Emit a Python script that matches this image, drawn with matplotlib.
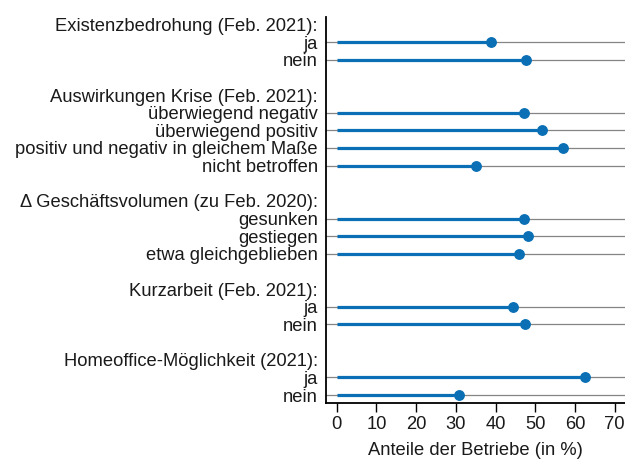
import numpy as np
import matplotlib
matplotlib.use("Agg")
from matplotlib import pyplot as plt

plt.rcParams['font.family'] = ['Liberation Sans', 'DejaVu Sans']

# labels top to bottom; None value = group header row or spacer row
labels = ["Existenzbedrohung (Feb. 2021):", "ja", "nein", "",
          "Auswirkungen Krise (Feb. 2021):", "überwiegend negativ", "überwiegend positiv",
          "positiv und negativ in gleichem Maße", "nicht betroffen", "",
          "\u0394 Geschäftsvolumen (zu Feb. 2020):", "gesunken", "gestiegen", "etwa gleichgeblieben", "",
          "Kurzarbeit (Feb. 2021):", "ja", "nein", "",
          "Homeoffice-Möglichkeit (2021):", "ja", "nein"]
values = [None, 38.8, 47.7, None,
          None, 47.2, 51.6, 57.1, 35.1, None,
          None, 47.2, 48.2, 45.9, None,
          None, 44.4, 47.5, None,
          None, 62.5, 30.9]

blue = '#0a6fb5'
fs = 13.2
fig = plt.figure(figsize=(6.25, 4.61), dpi=100)
ax = fig.add_axes([326/625, 1-403/461, 1-326/625, (403-17)/461])

ypos = np.arange(len(labels))
for y, v in zip(ypos, values):
    if v is None:
        continue
    ax.axhline(y, color='#858585', lw=0.9, zorder=1)
    ax.plot([0, v], [y, y], color=blue, lw=2.3, solid_capstyle='butt', zorder=2)
    ax.plot(v, y, 'o', color=blue, ms=6.8, zorder=3)

ax.set_ylim(21.45, -0.42)
ax.set_xlim(-2.7, 72.6)
ax.set_yticks(ypos)
ax.set_yticklabels(labels, fontsize=fs, color='#1a1a1a')
ax.tick_params(axis='y', length=0, pad=6)
ax.set_xticks(range(0, 71, 10))
ax.tick_params(axis='x', length=6.5, width=1, labelsize=fs, labelcolor='#1a1a1a', pad=3)
ax.set_xlabel("Anteile der Betriebe (in %)", fontsize=fs, color='#1a1a1a', labelpad=6)
ax.spines['top'].set_visible(False)
ax.spines['right'].set_visible(False)
ax.spines['left'].set_linewidth(1.3)
ax.spines['bottom'].set_linewidth(1.3)

fig.savefig("out.png", dpi=100)
